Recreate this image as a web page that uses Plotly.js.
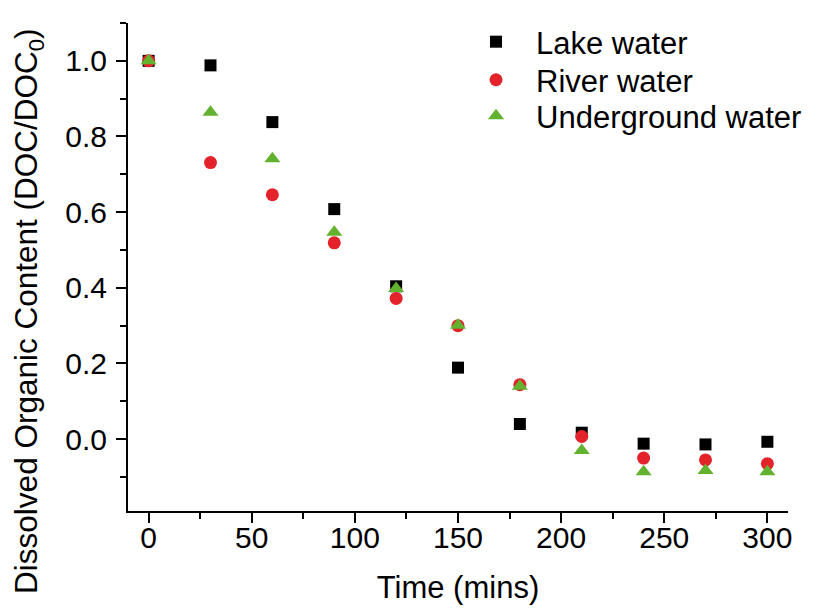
<!DOCTYPE html>
<html>
<head>
<meta charset="utf-8">
<script src="https://cdn.plot.ly/plotly-3.0.1.min.js"></script>
<style>html,body{margin:0;padding:0;background:#fff;}#chart{width:820px;height:610px;}</style>
</head>
<body>
<div id="chart"></div>
<script>
var timeMins = [0, 30, 60, 90, 120, 150, 180, 210, 240, 270, 300];
var lakeWater = [1.0, 0.988, 0.838, 0.608, 0.404, 0.189, 0.040, 0.017, -0.012, -0.014, -0.007];
var riverWater = [1.0, 0.731, 0.646, 0.519, 0.372, 0.300, 0.144, 0.007, -0.050, -0.055, -0.065];
var undergroundWater = [1.0, 0.864, 0.741, 0.547, 0.398, 0.301, 0.140, -0.030, -0.086, -0.083, -0.086];
var seriesNames = ['Lake water', 'River water', 'Underground water'];
var xTicks = [0, 50, 100, 150, 200, 250, 300];
var yTicks = [0.0, 0.2, 0.4, 0.6, 0.8, 1.0];
var xTitle = 'Time (mins)';
var yTitle = 'Dissolved Organic Content (DOC/DOC<sub>0</sub>)';

var FONT = 'Arial, "Liberation Sans", sans-serif';

var traces = [
  {x: timeMins, y: lakeWater, name: seriesNames[0], type: 'scatter', mode: 'markers', legend: 'legend',
   marker: {symbol: 'square', size: 12, color: '#000000'}},
  {x: timeMins, y: riverWater, name: seriesNames[1], type: 'scatter', mode: 'markers', legend: 'legend2',
   marker: {symbol: 'circle', size: 13, color: '#e4222a'}},
  {x: timeMins, y: undergroundWater, name: seriesNames[2], type: 'scatter', mode: 'markers', legend: 'legend3',
   marker: {symbol: 'triangle-up', size: 14, color: '#62b22f'}}
];

function legendBox(yPaper) {
  return {x: 0.497, y: yPaper, xanchor: 'left', yanchor: 'middle',
          font: {family: FONT, size: 31, color: '#000'},
          bgcolor: 'rgba(0,0,0,0)', borderwidth: 0, itemwidth: 70};
}

var layout = {
  width: 820, height: 610,
  paper_bgcolor: '#ffffff', plot_bgcolor: '#ffffff',
  font: {family: FONT, color: '#000000', size: 30},
  margin: {l: 128, r: 32, t: 23, b: 99},
  showlegend: true,
  legend: legendBox(0.961),
  legend2: legendBox(0.883),
  legend3: legendBox(0.809),
  xaxis: {
    range: [-10, 310], tickmode: 'array', tickvals: xTicks, ticktext: xTicks.map(String),
    ticks: 'outside', ticklen: 10, tickwidth: 2, tickcolor: '#000', ticklabelstandoff: -11,
    minor: {dtick: 25, tick0: 0, ticks: 'outside', ticklen: 6, tickwidth: 2, tickcolor: '#000', showgrid: false},
    showline: true, linecolor: '#000', linewidth: 2, showgrid: false, zeroline: false, automargin: false,
    tickfont: {family: FONT, size: 30},
    title: {text: xTitle, font: {family: FONT, size: 31}, standoff: 23}
  },
  yaxis: {
    range: [-0.19, 1.1], tickmode: 'array', tickvals: yTicks, ticktext: yTicks.map(function(v){return v.toFixed(1);}),
    ticks: 'outside', ticklen: 10, tickwidth: 2, tickcolor: '#000', ticklabelstandoff: 3,
    minor: {dtick: 0.1, tick0: 0, ticks: 'outside', ticklen: 6, tickwidth: 2, tickcolor: '#000', showgrid: false},
    showline: true, linecolor: '#000', linewidth: 2, showgrid: false, zeroline: false, automargin: false,
    tickfont: {family: FONT, size: 30}
  },
  annotations: [{
    text: yTitle, textangle: -90, showarrow: false,
    xref: 'paper', yref: 'paper', x: -0.15, y: 0.408, xanchor: 'center', yanchor: 'middle',
    font: {family: FONT, size: 31.5, color: '#000'}
  }]
};

Plotly.newPlot('chart', traces, layout, {displayModeBar: false, staticPlot: true});
</script>
</body>
</html>
